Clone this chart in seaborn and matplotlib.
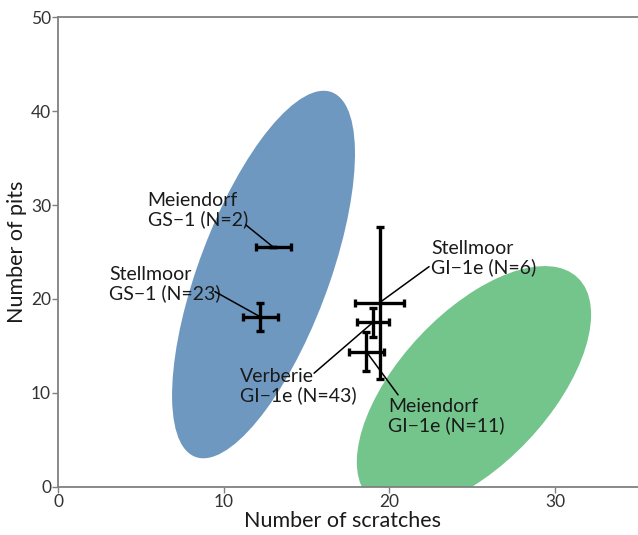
import matplotlib
matplotlib.use("Agg")
import matplotlib.pyplot as plt
from matplotlib.patches import Ellipse
import seaborn as sns
import pandas as pd
import numpy as np

# Groups (mean +/- error)
groups = ['Meiendorf\nGS\u22121 (N=2)', 'Stellmoor\nGS\u22121 (N=23)',
          'Stellmoor\nGI\u22121e (N=6)', 'Verberie\nGI\u22121e (N=43)',
          'Meiendorf\nGI\u22121e (N=11)']
scratches = [13.0, 12.2, 19.4, 19.0, 18.6]
scratch_err = [1.05, 1.05, 1.45, 0.95, 1.05]
pits = [25.5, 18.1, 19.6, 17.5, 14.4]
pit_err = [0.0, 1.5, 8.1, 1.5, 2.1]

# Ellipses: centre, half extent in x and y, x-y covariance term
ell_cx = [12.4, 25.1]
ell_cy = [22.6, 10.5]
ell_xhalf = [5.52, 7.07]
ell_yhalf = [19.56, 13.0]
ell_cov = [71.0, 55.5]
ell_colors = ['#6f98c0', '#73c58c']

# label placement (text top-left, leader start)
label_xy = [(5.4, 31.4), (3.1, 23.5), (22.5, 26.3), (11.0, 12.7), (19.9, 9.5)]
leader_start = [(11.34, 27.87), (9.47, 20.78), (22.39, 23.44), (15.45, 12.1), (20.52, 9.79)]

df = pd.DataFrame({'group': groups, 'scratches': scratches, 'pits': pits})

sns.set_theme(style='white')
plt.rcParams['font.family'] = ['Lato', 'DejaVu Sans']

fig = plt.figure(figsize=(6.38, 5.35), dpi=100)
ax = fig.add_axes([0.091, 0.09, 0.909, 0.878])

for cx, cy, xh, yh, cv, col in zip(ell_cx, ell_cy, ell_xhalf, ell_yhalf, ell_cov, ell_colors):
    cov = np.array([[xh ** 2, cv], [cv, yh ** 2]])
    vals, vecs = np.linalg.eigh(cov)
    ang = np.degrees(np.arctan2(vecs[1, 1], vecs[0, 1]))
    ax.add_patch(Ellipse((cx, cy), 2 * np.sqrt(vals[1]), 2 * np.sqrt(vals[0]),
                         angle=ang, facecolor=col, edgecolor='none', zorder=1))

sns.scatterplot(data=df, x='scratches', y='pits', color='black', s=4, ax=ax,
                zorder=3, legend=False, linewidth=0)
ax.errorbar(scratches, pits, xerr=scratch_err, yerr=pit_err, fmt='none',
            ecolor='black', elinewidth=2.4, capsize=3, capthick=2.4, zorder=3)

for g, (tx, ty), (lx, ly), x, y in zip(groups, label_xy, leader_start, scratches, pits):
    ax.text(tx, ty, g, ha='left', va='top', fontsize=14, color='#1a1a1a',
            linespacing=1.1, zorder=4)
    ax.plot([lx, x], [ly, y], color='black', lw=1.1, zorder=4)

ax.set_xlim(0, 35)
ax.set_ylim(0, 50)
ax.set_xticks([0, 10, 20, 30])
ax.set_yticks([0, 10, 20, 30, 40, 50])
ax.set_xlabel('Number of scratches', fontsize=15.5, color='#1a1a1a')
ax.set_ylabel('Number of pits', fontsize=15.5, color='#1a1a1a')
ax.xaxis.set_label_coords(0.49, -0.052)
ax.yaxis.set_label_coords(-0.054, 0.5)
ax.tick_params(axis='both', labelsize=12.5, length=4, width=1, color='#808080',
               labelcolor='#333333', direction='out', pad=1, bottom=True, left=True)
for side in ['left', 'bottom', 'top']:
    ax.spines[side].set_color('#808080')
    ax.spines[side].set_linewidth(1.3)
ax.spines['right'].set_visible(False)

fig.savefig('out.png', dpi=100)
